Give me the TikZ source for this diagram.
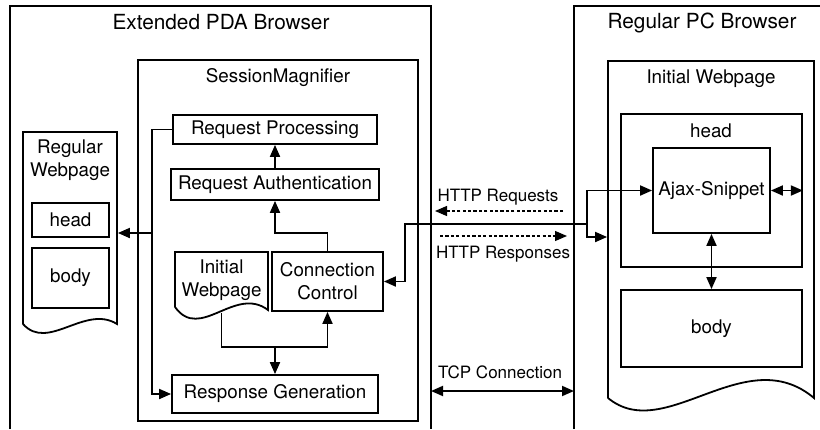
\documentclass[tikz,border=0pt]{standalone}
\usepackage{fontspec}
\setmainfont{TeX Gyre Heros}
\usetikzlibrary{arrows.meta,calc}
\begin{document}
\begin{tikzpicture}[x=0.5pt,y=-0.5pt,
  line width=0.9pt,
  font=\fontsize{9.4}{11.5}\selectfont,
  box/.style={draw,inner sep=0pt,align=center},
  area/.style={inner sep=0pt},
  lab/.style={inner sep=0pt,text height=0.72em,text depth=0pt},
  ttl/.style={lab,font=\fontsize{10.4}{12.5}\selectfont},
  linklab/.style={lab,font=\fontsize{8.5}{10}\selectfont},
  arr/.style={-{Triangle[length=6pt,width=5pt]}},
  dbl/.style={{Triangle[length=6pt,width=5pt]}-{Triangle[length=6pt,width=5pt]}},
  dasharr/.style={arr,line width=0.6pt,dash pattern=on 1.6pt off 1.1pt}]
\useasboundingbox (0,0) rectangle (820,429);

% ---------- outer frames ----------
\draw (10,429) -- (10,6) -- (431,6) -- (431,429);
\node[ttl] (pdatitle) at (221,22.5) {Extended PDA Browser};
\draw (574,429) -- (574,6) -- (820,6);
\node[ttl] (pctitle) at (702,21.5) {Regular PC Browser};

% ---------- SessionMagnifier ----------
\node[box,minimum width=140pt,minimum height=180.5pt] (sm) at (278,240.5) {};
\node[lab] (smtitle) at (278,75) {SessionMagnifier};
\node[box,minimum width=102pt,minimum height=14.5pt] (rp) at (275,129.5) {Request Processing};
\node[box,minimum width=104pt,minimum height=15.5pt] (ra) at (275,184.5) {Request Authentication};
\node[box,minimum width=55.5pt,minimum height=29.5pt] (cc) at (327.5,281.5) {Connection\\Control};
\node[box,minimum width=103pt,minimum height=19pt] (rg) at (275,394) {Response Generation};

% stored initial webpage (document shape)
\node[area,minimum width=46.5pt,minimum height=30pt] (iw) at (221.5,282) {};
\draw (175,307) -- (175,252) -- (268,252) -- (268,310)
  .. controls (235,285) and (200,342) .. (175,307);
\node[align=center,inner sep=0pt] (iwtext) at (221.5,280) {Initial\\Webpage};

% ---------- regular webpage on the PDA ----------
\node[area,minimum width=47pt,minimum height=96pt] (rw) at (70,228) {};
\draw (23,324) -- (23,132) -- (117,132) -- (117,324)
  .. controls (85,304) and (48,352) .. (23,324);
\node[align=center,inner sep=0pt] (rwtext) at (70,160) {Regular\\Webpage};
\node[box,minimum width=38.5pt,minimum height=17pt] (rwh) at (70.5,220) {head};
\node[box,minimum width=38.5pt,minimum height=30pt] (rwb) at (70.5,278) {body};

% ---------- initial webpage on the PC ----------
\node[area,minimum width=103pt,minimum height=168.5pt] (pw) at (711,229.5) {};
\draw (608,398) -- (608,61) -- (814,61) -- (814,398)
  .. controls (745,340) and (665,445) .. (608,398);
\node[lab] (pwtext) at (711,76.5) {Initial Webpage};
\node[box,minimum width=90.5pt,minimum height=76.5pt] (ph) at (711.5,190.5) {};
\node[lab] (phtext) at (711,130) {head};
\node[box,minimum width=58.5pt,minimum height=42.5pt] (aj) at (711.5,190.5) {Ajax-Snippet};
\node[box,minimum width=90.5pt,minimum height=38.5pt] (pb) at (711.5,328.5) {body};

% ---------- connectors inside SessionMagnifier ----------
\coordinate (jl) at (152,233);
\coordinate (jb) at (275,347);
\draw[arr] (rp.west) -| (jl) |- (rg.west);
\draw[arr] (jl) -- (jl -| rw.east);
\draw[arr] (ra.north) -- (rp.south);
\draw[arr] (cc.north) |- (ra.south |- jl) -- (ra.south);
\draw[arr] (iw.south) |- (jb) -| (cc.south);
\draw[arr] (jb) -- (rg.north);

% ---------- link between the two browsers ----------
\coordinate (jr) at (587,224);
\coordinate (jc) at (405,224);
\coordinate (jp) at (587,237);
\draw[arr] (jr) -- (jc) |- (cc.east);
\draw[arr] (jr) |- (aj.west);
\draw[arr] (jr) -- (jp) -- (jp -| pw.west);

\coordinate (rqa) at (563,211);
\coordinate (rqb) at (435,211);
\draw[dasharr] (rqa) -- (rqb);
\node[linklab] (rqtext) at (498,194.5) {HTTP Requests};
\coordinate (rsa) at (440,236);
\coordinate (rsb) at (567,236);
\draw[dasharr] (rsa) -- (rsb);
\node[linklab] (rstext) at (503,251) {HTTP Responses};

\coordinate (tcpa) at (431,391);
\coordinate (tcpb) at (574,391);
\draw[dbl] (tcpa) -- (tcpb);
\node[linklab] (tcptext) at (500,371) {TCP Connection};

% ---------- connectors inside the PC webpage ----------
\draw[dbl] (aj.east) -- (aj.east -| ph.east);
\draw[dbl] (aj.south) -- (aj.south |- pb.north);
\end{tikzpicture}
\end{document}
